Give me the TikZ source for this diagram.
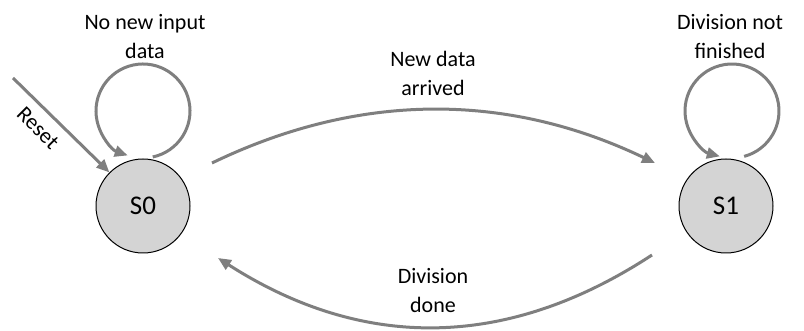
\documentclass[tikz,border=0pt]{standalone}
\usepackage{fontspec}
\setmainfont{Carlito}
\usetikzlibrary{arrows.meta}
\definecolor{arrgray}{HTML}{7F7F7F}
\definecolor{statefill}{HTML}{D4D4D4}
\begin{document}
\begin{tikzpicture}[x=1pt,y=1pt,
  state/.style={circle,draw=black,line width=1pt,fill=statefill,minimum size=94pt,inner sep=0pt,font=\fontsize{27}{30}\selectfont},
  conn/.style={draw=arrgray,line width=3pt,-{Triangle[length=13pt,width=11pt]},arrgray},
  lbl/.style={align=center,text=black,font=\fontsize{22}{29}\selectfont}]
\useasboundingbox (0,0) rectangle (804,331);
\node[state] (s0) at (143,125) {S0};
\node[state] (s1) at (726,125) {S1};
% self loops
\coordinate (c0) at ([yshift=95pt]s0.center);
\coordinate (c1) at ([shift={(6pt,95pt)}]s1.center);
\draw[conn] ([shift={(-78:47pt)}]c0) arc[start angle=-78,end angle=251,radius=47pt];
\draw[conn] ([shift={(-75:47pt)}]c1) arc[start angle=-75,end angle=255,radius=47pt];
\node[lbl] (l0) at (145,294) {No new input\\data};
\node[lbl] (l1) at (730,294) {Division not\\finished};
% reset
\coordinate (rst) at (13,253);
\draw[conn] (rst) -- (s0.135);
\node[lbl,rotate=-45] (lr) at (38,203) {Reset};
% transitions
\coordinate (a1) at ([shift={(69pt,43pt)}]s0.center);
\coordinate (a2) at ([shift={(-71pt,43pt)}]s1.center);
\draw[conn] (a1) .. controls (359,239) and (507,239) .. (a2);
\node[lbl] (l2) at (433,258) {New data\\arrived};
\coordinate (b1) at ([shift={(-74pt,-49pt)}]s1.center);
\coordinate (b2) at ([shift={(75pt,-52pt)}]s0.center);
\draw[conn] (b1) .. controls (507,-19) and (363,-20) .. (b2);
\node[lbl] (l3) at (433,40) {Division\\done};
\end{tikzpicture}
\end{document}
